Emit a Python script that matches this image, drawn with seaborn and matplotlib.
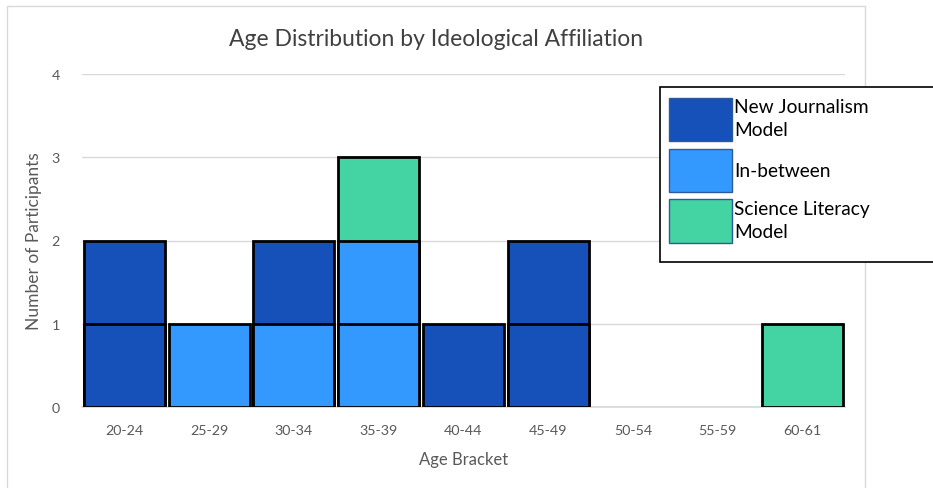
import matplotlib
matplotlib.use("Agg")
import matplotlib.pyplot as plt
import pandas as pd
import seaborn as sns
from matplotlib.patches import Patch, Rectangle

# Participants per age bracket and ideological affiliation
brackets = ["20-24", "25-29", "30-34", "35-39", "40-44", "45-49", "50-54", "55-59", "60-61"]
new_journalism = [2, 0, 1, 0, 1, 2, 0, 0, 0]
in_between = [0, 1, 1, 2, 0, 0, 0, 0, 0]
science_literacy = [0, 0, 0, 1, 0, 0, 0, 0, 1]

affiliations = ["New Journalism Model", "In-between", "Science Literacy Model"]
legend_labels = ["New Journalism\nModel", "In-between", "Science Literacy\nModel"]
palette = {
    "New Journalism Model": "#1551B8",
    "In-between": "#3399FF",
    "Science Literacy Model": "#44D3A3",
}

# One unit block per participant, stacked In-between -> New Journalism -> Science Literacy
stack_order = [("In-between", in_between),
               ("New Journalism Model", new_journalism),
               ("Science Literacy Model", science_literacy)]
rows = []
for i, b in enumerate(brackets):
    level = 0
    for name, counts in stack_order:
        for _ in range(counts[i]):
            level += 1
            rows.append({"bracket": b, "affiliation": name, "top": level})
blocks = pd.DataFrame(rows)

sns.set_theme(style="white")
plt.rcParams["font.family"] = ["Lato", "DejaVu Sans"]

W, H = 933, 489
fig = plt.figure(figsize=(W / 100, H / 100), dpi=100)
ax = fig.add_axes([82 / W, 1 - 408 / H, (845 - 82) / W, (408 - 75) / H])

# chart frame
fig.patches.append(Rectangle((7 / W, -0.05), (865 - 7) / W, 1.05 - 7 / H,
                             transform=fig.transFigure, fill=False,
                             edgecolor="#D9D9D9", linewidth=1.0, zorder=0))

# draw the tallest layer first so each lower block overlays the one above
for level in sorted(blocks["top"].unique(), reverse=True):
    sub = blocks[blocks["top"] == level]
    sns.barplot(data=sub, x="bracket", y="top", hue="affiliation",
                order=brackets, hue_order=affiliations, palette=palette,
                dodge=False, width=0.955, errorbar=None,
                edgecolor="black", linewidth=2.0, saturation=1,
                legend=False, ax=ax, zorder=3)

ax.set_xlim(-0.5, len(brackets) - 0.5)
ax.set_ylim(0, 4)
ax.set_yticks([0, 1, 2, 3, 4])
ax.yaxis.grid(True, color="#D9D9D9", linewidth=1.0, zorder=0)
ax.set_axisbelow(True)
for side in ["top", "right", "left"]:
    ax.spines[side].set_visible(False)
ax.spines["bottom"].set_color("#D9D9D9")
ax.tick_params(axis="both", length=0, colors="#595959", labelsize=10.3)
ax.tick_params(axis="x", pad=12)
ax.tick_params(axis="y", pad=16)
ax.set_xlabel("Age Bracket", color="#595959", fontsize=12, labelpad=11)
ax.set_ylabel("Number of Participants", color="#595959", fontsize=12.5)
ax.yaxis.set_label_coords(-0.053, 0.5)

fig.text(436 / W, 1 - 39 / H, "Age Distribution by Ideological Affiliation",
         ha="center", va="center", fontsize=16.5, color="#404040")

# legend box (drawn separately so it can run past the chart frame)
fig.patches.append(Rectangle((660 / W, 1 - 263 / H), 290 / W, (263 - 88) / H,
                             transform=fig.transFigure, facecolor="white",
                             edgecolor="black", linewidth=1.2, zorder=5))
handles = [Patch(facecolor=palette[a], edgecolor="#2E5A9A", linewidth=1.0)
           for a in affiliations]
leg = fig.legend(handles, legend_labels, loc="upper left",
                 bbox_to_anchor=(662 / W, 1 - 92 / H), borderaxespad=0,
                 fontsize=13.8, handlelength=3.3, handleheight=3.12,
                 handletextpad=0.1, labelspacing=0.38, borderpad=0.35,
                 frameon=False)
leg.set_zorder(6)
for t in leg.get_texts():
    t.set_linespacing(1.4)
    t.set_color("black")

fig.savefig("out.png", dpi=100)
